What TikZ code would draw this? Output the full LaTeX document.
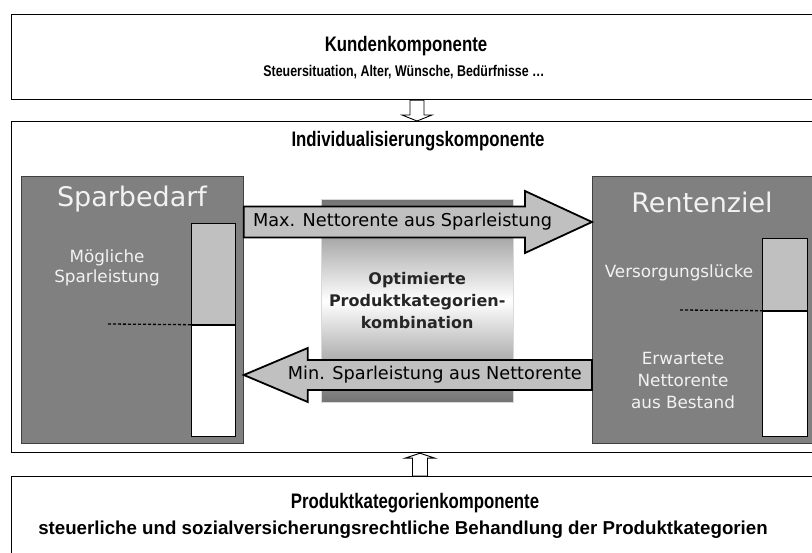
\documentclass[tikz,border=0pt]{standalone}
\usepackage{fontspec}
\setmainfont{DejaVu Sans}
\newfontfamily\titelfont[FakeStretch=0.8]{Liberation Sans}
\newfontfamily\zeilenfont{Liberation Sans}
\usepackage{tikz}
\usetikzlibrary{arrows,positioning,calc}
\definecolor{feldgrau}{HTML}{808080}
\definecolor{hellgrau}{HTML}{C0C0C0}
\tikzset{
    %Define standard arrow tip
    >=stealth',
    %Define style for the outer components
    komp/.style={
           rectangle,
           draw=black, line width=1.2pt,
           fill=white,
           inner sep=0pt,
           anchor=north west},
    %Define style for the grey fields
    feld/.style={
           rectangle,
           draw=black!75, line width=0.8pt,
           fill=feldgrau,
           inner sep=0pt,
           anchor=north west},
    balken/.style={
           rectangle,
           draw=black, line width=0.7pt,
           inner sep=0pt},
    % Define texts
    titel/.style={font=\titelfont\bfseries\fontsize{21}{25}\selectfont, inner sep=0pt},
    untertitel/.style={font=\titelfont\bfseries\fontsize{15.5}{18}\selectfont, inner sep=0pt},
    feldtitel/.style={font=\fontsize{27}{32}\selectfont, text=white!95!black, inner sep=0pt},
    feldtext/.style={font=\fontsize{16.8}{19.5}\selectfont, text=white!95!black,
           align=center, inner sep=0pt},
    pfeiltext/.style={font=\fontsize{17.7}{20}\selectfont, inner sep=0pt},
    % Define arrow styles
    pfeil/.style={fill=hellgrau, draw=black, line width=1.8pt, line join=miter},
    hohlpfeil/.style={fill=white, draw=black, line width=0.9pt},
    strich/.style={draw=black, line width=1.3pt, dash pattern=on 3pt off 2pt}
}
\begin{document}
\begin{tikzpicture}[x=1pt, y=-1pt]
\useasboundingbox (0,0) rectangle (812,553);
\clip (0,0) rectangle (812,553);
% outer components
\node[komp, minimum width=830pt, minimum height=85pt] (kunde) at (11,14) {};
\node[komp, minimum width=830pt, minimum height=331pt] (indiv) at (11,121) {};
\node[komp, minimum width=830pt, minimum height=120pt] (produkt) at (11,476) {};
\node[titel] (kundetitel) at (406,46) {Kundenkomponente};
\node[untertitel] (kundetext) at (404,72) {Steuersituation, Alter, Wünsche, Bedürfnisse …};
\node[titel] (indivtitel) at (418,141) {Individualisierungskomponente};
\node[titel] (produkttitel) at (415,503) {Produktkategorienkomponente};
\node[untertitel, font=\zeilenfont\bfseries\fontsize{18.7}{22}\selectfont] (produkttext) at (403,530) {steuerliche und sozialversicherungsrechtliche Behandlung der Produktkategorien};
% hollow arrows
\coordinate (obenx) at (417,0);
\coordinate (untenx) at (420,0);
\coordinate (oa) at (kunde.south -| obenx);
\coordinate (ob) at (indiv.north -| obenx);
\coordinate (ua) at (produkt.north -| untenx);
\coordinate (ub) at (indiv.south -| untenx);
\draw[hohlpfeil] ($(oa)+(-7,0)$) -- ($(oa)+(7,0)$) -- ($(ob)+(7,-6)$) -- ($(ob)+(15,-6)$) -- (ob)
    -- ($(ob)+(-15,-6)$) -- ($(ob)+(-7,-6)$) -- cycle;
\draw[hohlpfeil] ($(ua)+(-7.5,0)$) -- ($(ub)+(-7.5,5)$) -- ($(ub)+(-15,5)$) -- (ub)
    -- ($(ub)+(15,5)$) -- ($(ub)+(7.5,5)$) -- ($(ua)+(7.5,0)$) -- cycle;
% grey fields
\node[feld, minimum width=222pt, minimum height=267pt] (spar) at (21,176) {};
\node[feld, minimum width=222pt, minimum height=267pt] (rente) at (592,176) {};
\node[feldtitel] (spartitel) at (132,199) {Sparbedarf};
\node[feldtitel] (rentetitel) at (702,202) {Rentenziel};
\node[balken, fill=hellgrau, anchor=north west, minimum width=44pt, minimum height=101pt] (sparoben) at (191,223) {};
\node[balken, fill=white, minimum width=44pt, minimum height=111pt, below=0pt of sparoben] (sparunten) {};
\node[balken, fill=hellgrau, anchor=north west, minimum width=45pt, minimum height=72pt] (renteoben) at (762,238) {};
\node[balken, fill=white, minimum width=45pt, minimum height=125pt, below=0pt of renteoben] (renteunten) {};
\coordinate (sparstrich) at (108,324);
\coordinate (rentestrich) at (680,310);
\draw[strich] (sparstrich) -- (sparoben.south west);
\draw[strich] (rentestrich) -- (renteoben.south west);
\node[feldtext] (sparmoeglich) at (107,268) {Mögliche\\Sparleistung};
\node[feldtext] (luecke) at (679,273) {Versorgungslücke};
\node[feldtext, font=\fontsize{16.8}{22}\selectfont] (bestand) at (683,380) {Erwartete\\Nettorente\\aus Bestand};
% optimisation in the middle
\node[rectangle, anchor=north west, minimum width=192pt, minimum height=203pt,
      top color=black!55, bottom color=black!55, middle color=white, draw=black!15,
      font=\bfseries\fontsize{16}{22}\selectfont, text=black!85, align=center] (opt) at (321,199)
      {Optimierte\\Produktkategorien-\\kombination};
% big arrows
\coordinate (maxhoehe) at (0,222);
\coordinate (minhoehe) at (0,375);
\coordinate (maxanf) at (spar.east |- maxhoehe);
\coordinate (maxspitze) at (rente.west |- maxhoehe);
\coordinate (minanf) at (rente.west |- minhoehe);
\coordinate (minspitze) at (spar.east |- minhoehe);
\draw[pfeil] ($(maxanf)+(0,-15.5)$) -- ($(maxspitze)+(-67,-15.5)$) -- ($(maxspitze)+(-67,-31)$) -- (maxspitze)
    -- ($(maxspitze)+(-67,31)$) -- ($(maxspitze)+(-67,15.5)$) -- ($(maxanf)+(0,15.5)$) -- cycle;
\draw[pfeil] ($(minanf)+(0,-15)$) -- ($(minspitze)+(64,-15)$) -- ($(minspitze)+(64,-27)$) -- (minspitze)
    -- ($(minspitze)+(64,27)$) -- ($(minspitze)+(64,15)$) -- ($(minanf)+(0,15)$) -- cycle;
\node[pfeiltext, anchor=west] (maxtext) at ($(maxanf)+(9,0)$) {Max. Nettorente aus Sparleistung};
\node[pfeiltext, anchor=east] (mintext) at ($(minanf)+(-10,0)$) {Min. Sparleistung aus Nettorente};
\end{tikzpicture}
\end{document}
